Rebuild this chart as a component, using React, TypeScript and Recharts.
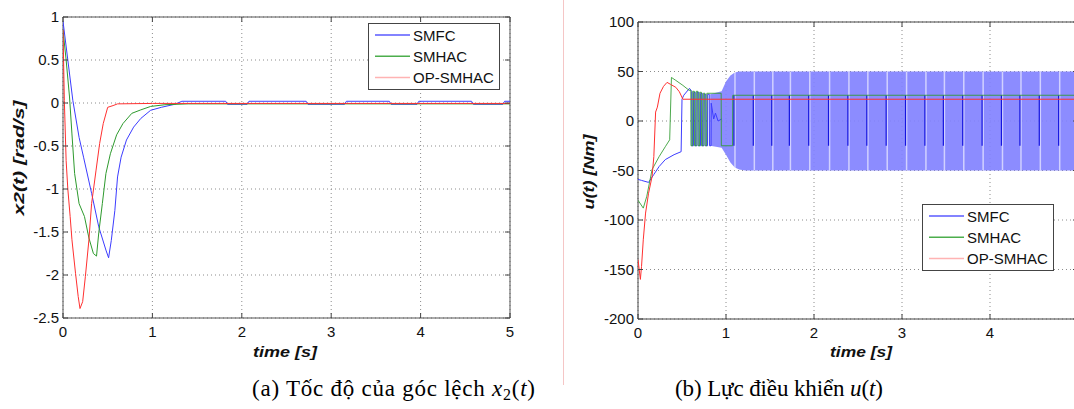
import React from "react";
import {
  LineChart,
  ComposedChart,
  Line,
  Area,
  XAxis,
  YAxis,
  CartesianGrid,
  ReferenceArea,
  ReferenceLine,
} from "recharts";

// ---- shared ----
const timeTicks = [0, 1, 2, 3, 4, 5];
// the right panel is cropped just before the "5" label
const timeTicksB = [0, 1, 2, 3, 4];

// ---- (a) x2(t) [rad/s] ----
const aTicksY = [-2.5, -2, -1.5, -1, -0.5, 0, 0.5, 1];

const aSmfcT = [0, 0.054, 0.11, 0.18, 0.23, 0.32, 0.4, 0.48, 0.51, 0.54, 0.58, 0.61, 0.65, 0.71, 0.79, 0.87, 0.98, 1.1, 1.25, 1.33, 1.82, 1.84, 2.06, 2.08, 2.72, 2.74, 3.15, 3.17, 3.65, 3.67, 3.96, 3.98, 4.57, 4.59, 4.92, 4.94, 5];
const aSmfcV = [0.95, 0.5, 0.03, -0.4, -0.63, -1.05, -1.44, -1.71, -1.8, -1.6, -1.25, -0.86, -0.63, -0.43, -0.28, -0.18, -0.085, -0.05, -0.015, 0.02, 0.02, -0.015, -0.015, 0.02, 0.02, -0.015, -0.015, 0.02, 0.02, -0.015, -0.015, 0.02, 0.02, -0.015, -0.015, 0.02, 0.02];

const aSmhacT = [0, 0.035, 0.073, 0.1, 0.13, 0.18, 0.24, 0.29, 0.34, 0.375, 0.4, 0.44, 0.48, 0.53, 0.6, 0.67, 0.77, 0.87, 0.98, 1.14, 1.4, 5];
const aSmhacV = [0.85, 0.5, 0.07, -0.36, -0.82, -1.17, -1.32, -1.57, -1.75, -1.78, -1.51, -1.17, -0.82, -0.59, -0.37, -0.24, -0.12, -0.08, -0.04, -0.02, -0.01, -0.01];

const aOpT = [0, 0.015, 0.035, 0.054, 0.08, 0.1, 0.14, 0.17, 0.19, 0.22, 0.25, 0.29, 0.32, 0.37, 0.41, 0.45, 0.5, 0.56, 0.61, 1.0, 5];
const aOpV = [0.85, 0.03, -0.67, -1.0, -1.32, -1.59, -1.98, -2.25, -2.39, -2.31, -2.02, -1.59, -1.17, -0.78, -0.47, -0.24, -0.05, -0.03, -0.01, -0.005, -0.005];

// ---- (b) u(t) [Nm] ----
const bTicksY = [-200, -150, -100, -50, 0, 50, 100];

const bSmfcT = [0, 0.04, 0.12, 0.18, 0.24, 0.31, 0.41, 0.49, 0.5, 0.52, 0.585, 0.61, 0.612, 0.63, 0.632, 0.65, 0.652, 0.67, 0.672, 0.69, 0.692, 0.71, 0.712, 0.73, 0.732, 0.75, 0.752, 0.77, 0.772, 0.79, 0.792, 0.81, 0.812, 0.83, 0.832, 0.86, 0.88, 0.91, 0.95];
const bSmfcV = [-59, -60, -62, -54, -46, -39, -34, -31, 22, 26, 33, 30, -25, -25, 29, 29, -25, -25, 29, 29, -25, -25, 28, 28, -25, -25, 27, 27, -25, -25, 27, 27, -25, -25, 18, 2, 8, 0, 2];

// chattering envelope of SMFC after ~0.8 s
const bandT = [0.82, 0.95, 1.0, 1.05, 1.1, 1.15, 1.22, 5];
const bandLow = [-25, -27, -34, -42, -47, -49, -50, -50];
const bandHigh = [27, 30, 40, 46, 49, 50, 50, 50];
const spikeT = [1.09, 1.31, 1.52, 1.72, 1.94, 2.165, 2.385, 2.6, 2.82, 3.04, 3.26, 3.47, 3.69, 3.91, 4.13, 4.34, 4.56, 4.78, 4.99];

const bSmhacT = [0, 0.06, 0.1, 0.16, 0.24, 0.31, 0.36, 0.38, 0.43, 0.51, 0.58, 0.6, 0.602, 0.62, 0.622, 0.64, 0.642, 0.66, 0.662, 0.68, 0.682, 0.7, 0.702, 0.72, 0.722, 0.74, 0.742, 0.76, 0.762, 0.78, 0.782, 0.945, 0.947, 1.075, 1.077, 5];
const bSmhacV = [-80, -88, -76, -49, -36, -26, -19, 44, 41, 36, 31, 31, -25, -25, 30, 30, -25, -25, 30, 30, -25, -25, 29, 29, -25, -25, 28, 28, -25, -25, 28, 28, -25, -25, 26, 26];

const bOpT = [0, 0.027, 0.04, 0.06, 0.086, 0.12, 0.16, 0.18, 0.2, 0.22, 0.25, 0.29, 0.33, 0.37, 0.43, 0.47, 0.51, 5];
const bOpV = [-140, -160, -147, -120, -93, -73, -56, -36, 9, 14, 28, 35, 39, 37, 34, 29.5, 22, 22];

const legendNames = ["SMFC", "SMHAC", "OP-SMHAC"];

const zip = (t: number[], v: number[]) => t.map((x, i) => ({ t: x, v: v[i] }));

const BLUE = "#3c3cff";
const GREEN = "#2e9a2e";
const RED = "#ff3030";
const legendColors = ["#5a5aff", "#4cae4c", "#ffb3b3"];
const SANS = "'Liberation Sans', Arial, sans-serif";
const SERIF = "'Liberation Serif', 'Times New Roman', serif";

const makeXTick = (plotH: number) => (props: any) => {
  const { x, y, payload } = props;
  return (
    <g>
      <line x1={x} x2={x} y1={y} y2={y - 5} stroke="#444" />
      <line x1={x} x2={x} y1={y - plotH} y2={y - plotH + 5} stroke="#444" />
      <text x={x} y={y + 19} textAnchor="middle" fontSize={15} fontFamily={SANS} fill="#111">
        {payload.value}
      </text>
    </g>
  );
};

const makeYTick = (plotW: number) => (props: any) => {
  const { x, y, payload } = props;
  return (
    <g>
      <line x1={x} x2={x + 5} y1={y} y2={y} stroke="#444" />
      <line x1={x + plotW} x2={x + plotW - 5} y1={y} y2={y} stroke="#444" />
      <text x={x - 4} y={y + 5} textAnchor="end" fontSize={15} fontFamily={SANS} fill="#111">
        {payload.value}
      </text>
    </g>
  );
};

function ChartA() {
  return (
    <LineChart width={540} height={340} margin={{ top: 17, right: 30, left: 0, bottom: 0 }}>
      <CartesianGrid stroke="#8c8c8c" strokeDasharray="1 3" />
      <XAxis
        type="number"
        dataKey="t"
        domain={[0, 5]}
        ticks={timeTicks}
        height={22}
        tickSize={0}
        tickMargin={0}
        axisLine={false}
        tickLine={false}
        tick={makeXTick(301)}
        allowDataOverflow
      />
      <YAxis
        type="number"
        domain={[-2.5, 1]}
        ticks={aTicksY}
        width={63}
        tickSize={0}
        tickMargin={0}
        axisLine={false}
        tickLine={false}
        tick={makeYTick(447)}
        allowDataOverflow
      />
      <Line data={zip(aSmfcT, aSmfcV)} dataKey="v" stroke={BLUE} dot={false} strokeWidth={1} isAnimationActive={false} />
      <Line data={zip(aSmhacT, aSmhacV)} dataKey="v" stroke={GREEN} dot={false} strokeWidth={1} isAnimationActive={false} />
      <Line data={zip(aOpT, aOpV)} dataKey="v" stroke={RED} dot={false} strokeWidth={1} isAnimationActive={false} />
      <ReferenceArea x1={0} x2={5} y1={-2.5} y2={1} fill="none" stroke="#555" ifOverflow="visible" />
    </LineChart>
  );
}

function ChartB() {
  const band = bandT.map((t, i) => ({ t, r: [bandLow[i], bandHigh[i]] }));
  return (
    <ComposedChart width={560} height={340} data={band} margin={{ top: 22, right: 22, left: 0, bottom: 0 }}>
      <CartesianGrid stroke="#8c8c8c" strokeDasharray="1 3" />
      <XAxis
        type="number"
        dataKey="t"
        domain={[0, 5]}
        ticks={timeTicksB}
        height={21}
        tickSize={0}
        tickMargin={0}
        axisLine={false}
        tickLine={false}
        tick={makeXTick(297)}
        allowDataOverflow
      />
      <YAxis
        type="number"
        domain={[-200, 100]}
        ticks={bTicksY}
        width={98}
        tickSize={0}
        tickMargin={0}
        axisLine={false}
        tickLine={false}
        tick={makeYTick(440)}
        allowDataOverflow
      />
      <Area dataKey="r" type="linear" stroke="none" fill="#8080ff" fillOpacity={0.9} isAnimationActive={false} />
      {spikeT.map((t) => (
        <ReferenceLine
          key={"w" + t}
          segment={[{ x: t + 0.012, y: -50 }, { x: t + 0.012, y: 50 }]}
          stroke="#ffffff"
          strokeOpacity={0.6}
          strokeWidth={1.5}
        />
      ))}
      {spikeT.map((t) => (
        <ReferenceLine
          key={"s" + t}
          segment={[{ x: t, y: -25 }, { x: t, y: 26 }]}
          stroke="#1414e0"
          strokeWidth={1.2}
        />
      ))}
      <Line data={zip(bSmfcT, bSmfcV)} dataKey="v" stroke={BLUE} dot={false} strokeWidth={1} isAnimationActive={false} />
      <Line data={zip(bSmhacT, bSmhacV)} dataKey="v" stroke={GREEN} strokeOpacity={0.85} dot={false} strokeWidth={1} isAnimationActive={false} />
      <Line data={zip(bOpT, bOpV)} dataKey="v" stroke={RED} dot={false} strokeWidth={1} isAnimationActive={false} />
      <ReferenceArea x1={0} x2={5} y1={-200} y2={100} fill="none" stroke="#444" ifOverflow="visible" />
    </ComposedChart>
  );
}

function LegendBox({ x, y }: { x: number; y: number }) {
  return (
    <g>
      <rect x={x + 0.5} y={y + 0.5} width={131} height={66} fill="#fff" stroke="#444" />
      {legendNames.map((n, i) => {
        const ry = y + 12 + i * 21.3;
        return (
          <g key={n}>
            <line x1={x + 7} x2={x + 42} y1={ry} y2={ry} stroke={legendColors[i]} strokeWidth={1.5} />
            <text x={x + 45} y={ry + 5.5} fontSize={15} fontFamily={SANS} fill="#111">
              {n}
            </text>
          </g>
        );
      })}
    </g>
  );
}

export default function App() {
  return (
    <div
      style={{
        position: "absolute",
        left: 0,
        top: 0,
        width: 1074,
        height: 409,
        overflow: "hidden",
        background: "#fff",
      }}
    >
      <div style={{ position: "absolute", left: 0, top: 0 }}>
        <ChartA />
      </div>
      <div style={{ position: "absolute", left: 540, top: 0 }}>
        <ChartB />
      </div>
      <svg
        width={1074}
        height={409}
        style={{ position: "absolute", left: 0, top: 0, pointerEvents: "none" }}
      >
        <line x1={563.5} x2={563.5} y1={0} y2={385} stroke="#f5c6c6" />
        <LegendBox x={368} y={23} />
        <LegendBox x={922} y={204} />
        <text
          transform="translate(19,158) rotate(-90)"
          textAnchor="middle"
          dy="0.35em"
          fontSize={15}
          fontWeight="bold"
          fontStyle="italic"
          fontFamily={SANS}
          fill="#111"
          textLength={115}
          lengthAdjust="spacingAndGlyphs"
        >
          x2(t) [rad/s]
        </text>
        <text
          transform="translate(589,172) rotate(-90)"
          textAnchor="middle"
          dy="0.35em"
          fontSize={15}
          fontWeight="bold"
          fontStyle="italic"
          fontFamily={SANS}
          fill="#111"
          textLength={75}
          lengthAdjust="spacingAndGlyphs"
        >
          u(t) [Nm]
        </text>
        <text x={253} y={357} fontSize={15} fontWeight="bold" fontStyle="italic" fontFamily={SANS} fill="#111" textLength={64} lengthAdjust="spacingAndGlyphs">
          time [s]
        </text>
        <text x={830} y={357} fontSize={15} fontWeight="bold" fontStyle="italic" fontFamily={SANS} fill="#111" textLength={62} lengthAdjust="spacingAndGlyphs">
          time [s]
        </text>
        <text x={252} y={396} fontSize={23} fontFamily={SERIF} fill="#000" textLength={283} lengthAdjust="spacing">
          (a) Tốc độ của góc lệch <tspan fontStyle="italic">x</tspan>
          <tspan fontSize={16} dy={4}>2</tspan>
          <tspan dy={-4}>(</tspan>
          <tspan fontStyle="italic">t</tspan>)
        </text>
        <text x={675} y={396} fontSize={23} fontFamily={SERIF} fill="#000" textLength={208} lengthAdjust="spacing">
          (b) Lực điều khiển <tspan fontStyle="italic">u</tspan>(<tspan fontStyle="italic">t</tspan>)
        </text>
      </svg>
    </div>
  );
}
